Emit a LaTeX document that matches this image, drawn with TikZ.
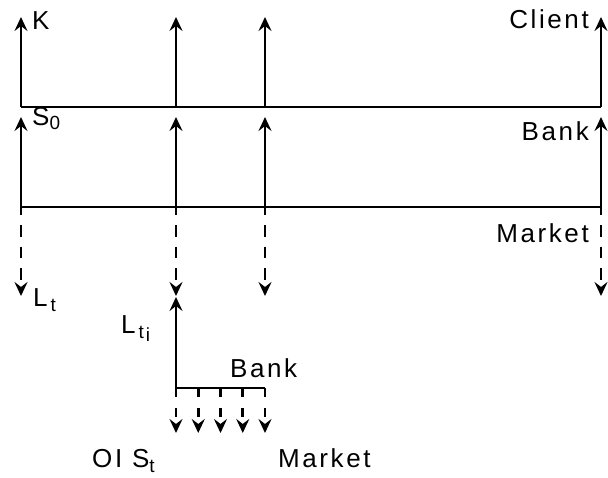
\documentclass[tikz,border=0pt]{standalone}
\usepackage{fontspec}
\setmainfont{Liberation Sans}[LetterSpace=10]
\usetikzlibrary{arrows.meta}
\newcommand\lowsub[2][-5pt]{\raisebox{#1}{\fontsize{19}{19}\selectfont #2}}
\begin{document}
\begin{tikzpicture}[x=1pt,y=-1pt,
  line/.style={line width=2.7pt},
  ar/.style={line width=2.7pt,-{Stealth[length=14pt,width=13pt,inset=5pt]}},
  dar/.style={ar,dash pattern=on 11.5pt off 10pt,dash phase=3.5pt},
  sdar/.style={ar,dash pattern=on 9pt off 11pt},
  lab/.style={inner sep=0pt,font=\fontsize{26}{30}\selectfont}]
\useasboundingbox (0,0) rectangle (608,477);
% key points
\foreach \n/\x in {a/21,b/176,c/265,d/601}{
  \coordinate (\n1) at (\x,107);
  \coordinate (\n1t) at (\x,17);
  \coordinate (\n2) at (\x,207);
  \coordinate (\n2t) at (\x,117);
  \coordinate (\n3) at (\x,296);
}
\coordinate (bb) at (176,388);
\coordinate (bt) at (176,297);
\coordinate (cb) at (265,388);
% timelines
\draw[line] (a1) -- (d1);
\draw[line] (a2) -- (d2);
% arrows on the timelines
\foreach \n in {a,b,c,d}{
  \draw[ar] (\n1) -- (\n1t);
  \draw[ar] (\n2) -- (\n2t);
  \draw[dar] (\n2) -- (\n3);
}
% lower bank structure
\draw[ar] (bb) -- (bt);
\draw[line] (bb) -- (cb);
\foreach \i in {0,...,4}{
  \coordinate (s\i) at (176+22.25*\i,388);
  \coordinate (e\i) at (176+22.25*\i,433);
  \draw[sdar] (s\i) -- (e\i);
}
% labels
\node[lab,anchor=base west] (K) at (32,29) {K};
\node[lab,anchor=base west] (S0) at (32,125) {S\lowsub[-4pt]{0}};
\node[lab,anchor=base east] (client) at (589,28) {Client};
\node[lab,anchor=base east] (bank1) at (589,140) {Bank};
\node[lab,anchor=base east] (market1) at (589,242) {Market};
\node[lab,anchor=base west] (Lt) at (33,306) {L\kern3pt\lowsub{t}};
\node[lab,anchor=base west] (Lti) at (121,333) {L\kern3pt\lowsub{t\kern2pt\lowsub[-3pt]{i}}};
\node[lab,anchor=base west] (bank2) at (230,377) {Bank};
\node[lab,anchor=base west] (OIS) at (92,467) {OI S\lowsub{t}};
\node[lab,anchor=base west] (market2) at (278,467) {Market};
\end{tikzpicture}
\end{document}
